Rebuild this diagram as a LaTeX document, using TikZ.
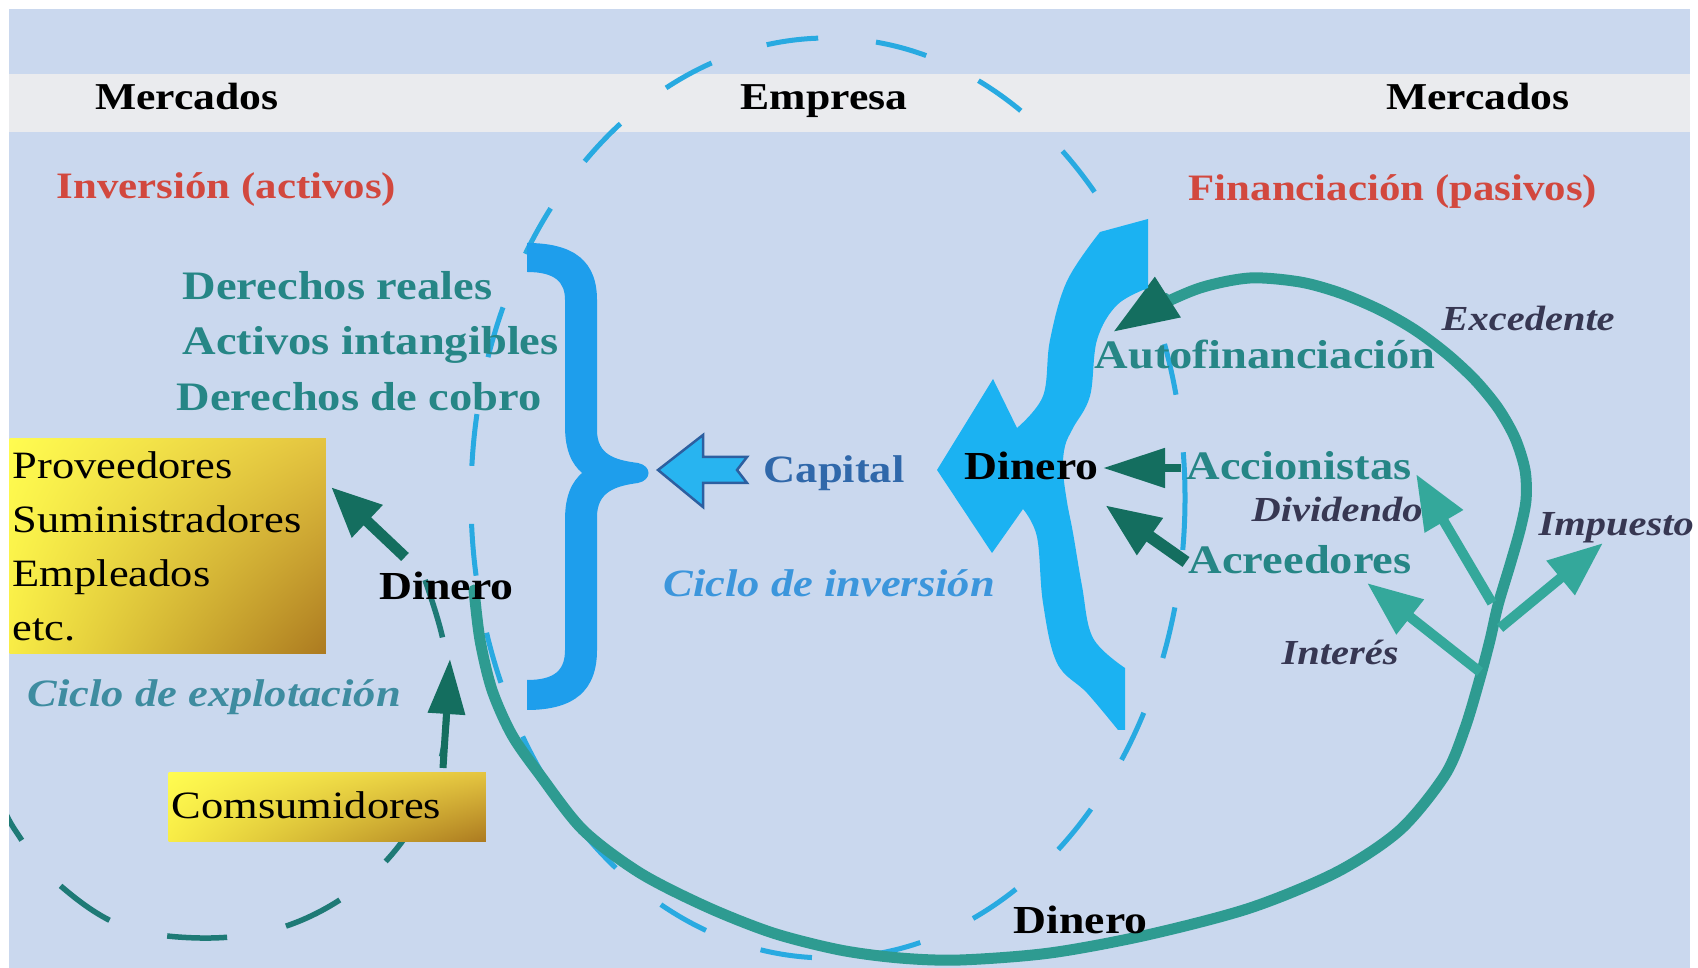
\documentclass[tikz,border=0pt]{standalone}
\usepackage{fontspec}
\setmainfont{Liberation Serif}[FakeStretch=1.15]
\usetikzlibrary{arrows.meta,shadings}
\definecolor{bgblue}{RGB}{202,216,238}
\definecolor{bandgrey}{RGB}{234,235,238}
\definecolor{redt}{RGB}{210,72,62}
\definecolor{tealtxt}{RGB}{38,134,134}
\definecolor{capblue}{RGB}{48,104,170}
\definecolor{cycblue}{RGB}{60,150,220}
\definecolor{cycteal}{RGB}{62,140,160}
\definecolor{darkit}{RGB}{55,55,82}
\definecolor{lbrace}{RGB}{30,158,236}
\definecolor{rbrace}{RGB}{27,178,242}
\definecolor{capfill}{RGB}{40,180,240}
\definecolor{capdraw}{RGB}{45,95,160}
\definecolor{ldash}{RGB}{40,170,225}
\definecolor{ddash}{RGB}{30,122,118}
\definecolor{tealline}{RGB}{46,155,145}
\definecolor{brancht}{RGB}{52,168,155}
\definecolor{darkarrow}{RGB}{20,110,95}
\definecolor{yelA}{RGB}{255,252,80}
\definecolor{yelB}{RGB}{228,196,64}
\definecolor{yelC}{RGB}{248,236,70}
\definecolor{yelD}{RGB}{172,122,32}
\tikzset{
  txt/.style={inner sep=0pt, anchor=west},
  hdr/.style={inner sep=0pt, anchor=base, font=\fontsize{10.8pt}{13pt}\selectfont\bfseries, text=black},
  redlbl/.style={txt, font=\fontsize{10.6pt}{13pt}\selectfont\bfseries, text=redt},
  teallbl/.style={txt, font=\fontsize{11.5pt}{14pt}\selectfont\bfseries, text=tealtxt},
  blklbl/.style={txt, font=\fontsize{11.3pt}{14pt}\selectfont\bfseries, text=black},
  caplbl/.style={txt, font=\fontsize{11pt}{13pt}\selectfont\bfseries, text=capblue},
  cyclbl/.style={txt, font=\fontsize{11pt}{13pt}\selectfont\bfseries\itshape},
  itlbl/.style={txt, font=\fontsize{10pt}{12pt}\selectfont\bfseries\itshape, text=darkit},
  ybox/.style={anchor=north west, inner xsep=0.03cm, inner ysep=0pt, align=left,
    font=\fontsize{11pt}{15.4pt}\selectfont, text=black,
    upper left=yelA, upper right=yelB, lower left=yelC, lower right=yelD},
  darr/.style={draw=darkarrow, -{Triangle[length=0.55cm,width=0.42cm]}},
  barr/.style={draw=brancht, line width=0.1cm, -{Triangle[length=0.55cm,width=0.42cm]}},
  ldashed/.style={draw=ldash, line width=0.05cm, dash pattern=on 0.52cm off 0.58cm},
  ddashed/.style={draw=ddash, line width=0.055cm, dash pattern=on 0.6cm off 0.6cm},
}
\begin{document}
\begin{tikzpicture}[x=0.01cm,y=-0.01cm]
\useasboundingbox (0,0) rectangle (1698,968);
\fill[white] (0,0) rectangle (1698,968);
\fill[bgblue] (9,9) rectangle (1690,968);
\fill[bandgrey] (9,74) rectangle (1690,132);

% dashed cycles
\begin{scope}
\clip (9,9) rectangle (1690,968);
\draw[ldashed] (828,498) ellipse [x radius=357, y radius=460];
\draw[ddashed] plot[smooth, tension=0.6] coordinates {(425,580) (443,640) (448,700) (438,770) (404,839) (350,893) (280,928) (200,938) (120,925) (54,880) (15,830) (0,800)};
\end{scope}

% main money cycle
\draw[tealline, line width=0.11cm, line cap=round, -{Triangle[length=0.65cm,width=0.45cm,color=darkarrow]}]
  plot[smooth, tension=0.5] coordinates {(474,590) (480,640) (492,690) (512,735) (540,775) (583,830) (640,873) (707,907) (773,933) (840,950) (900,958) (960,960) (1050,953) (1147,935) (1250,908) (1337,872) (1400,830) (1445,775) (1465,728) (1480,678) (1490,640) (1498,605) (1510,565) (1520,530) (1526,500) (1525,470) (1515,438) (1498,408) (1475,380) (1447,354) (1415,330) (1380,310) (1340,293) (1300,282) (1250,278) (1200,288) (1150,310) (1113,332)};

% branch coordinates
\coordinate (bDiv) at (1492,603);
\coordinate (tDiv) at (1416,474);
\coordinate (bImp) at (1500,628);
\coordinate (tImp) at (1603,543);
\coordinate (bInt) at (1480,672);
\coordinate (tInt) at (1367,583);
\draw[barr] (bDiv) -- (tDiv);
\draw[barr] (bImp) -- (tImp);
\draw[barr] (bInt) -- (tInt);

% left brace
\fill[lbrace] (527,243) .. controls (575,243) and (597,262) .. (597,300) -- (597,430)
  .. controls (597,455) and (615,460) .. (638,463) .. controls (652,466) and (652,480) .. (638,483)
  .. controls (615,486) and (597,492) .. (597,517) -- (597,650)
  .. controls (597,690) and (575,710) .. (527,710) -- (527,680)
  .. controls (555,680) and (565,670) .. (565,650) -- (565,520)
  .. controls (565,495) and (572,482) .. (582,473) .. controls (572,464) and (565,451) .. (565,426)
  -- (565,300) .. controls (565,282) and (555,272) .. (527,272) -- cycle;

% right brace with arrow
\fill[rbrace] (1148,219) -- (1100,232)
  -- plot[smooth, tension=0.6] coordinates {(1100,232) (1067,281) (1050,340) (1043,396) (1017,428)}
  -- (993,379) -- (937,470) -- (992,553) -- (1023,509)
  -- plot[smooth, tension=0.6] coordinates {(1023,509) (1037,537) (1043,603) (1057,663) (1087,693) (1118,730)}
  -- (1125,730) -- (1125,668)
  -- plot[smooth, tension=0.6] coordinates {(1125,668) (1093,638) (1082,586) (1073,533) (1067,502) (1063,470) (1065,446) (1073,428) (1090,396) (1097,340) (1117,305) (1148,288)}
  -- cycle;

% capital arrow
\filldraw[fill=capfill, draw=capdraw, line width=0.025cm, line join=miter]
  (658,470) -- (703,435) -- (703,457) -- (747,457) -- (737,470) -- (747,483) -- (703,483) -- (703,507) -- cycle;

% boxes
\node[ybox, text width=3.1cm, minimum height=2.15cm] (prov) at (9,438)
  {Proveedores\\Suministradores\\Empleados\\etc.};
\node[ybox, text width=3.11cm, minimum height=0.69cm] (cons) at (168,772) {\raisebox{0.05cm}{Comsumidores}};

% labels
\node[hdr] (mercL) at (187,110) {Mercados};
\node[hdr] (empresa) at (824,110) {Empresa};
\node[hdr] (mercR) at (1478,110) {Mercados};
\node[redlbl] (inv) at (56,190) {Inversión (activos)};
\node[redlbl] (fin) at (1188,192) {Financiación (pasivos)};
\node[teallbl] (dr) at (182,286) {Derechos reales};
\node[teallbl] (ai) at (182,345) {Activos intangibles};
\node[teallbl] (dc) at (176,397) {Derechos de cobro};
\node[blklbl] (dinL) at (379,586) {Dinero};
\node[cyclbl, text=cycteal] (cexp) at (27,697) {Ciclo de explotación};
\node[caplbl] (cap) at (763,473) {Capital};
\node[cyclbl, text=cycblue] (cinv) at (663,583) {Ciclo de inversión};
\node[blklbl] (dinR) at (964,466) {Dinero};
\node[teallbl] (auto) at (1094,355) {Autofinanciación};
\node[teallbl] (acc) at (1186,466) {Accionistas};
\node[itlbl] (div) at (1251,509) {Dividendo};
\node[teallbl] (acr) at (1188,560) {Acreedores};
\node[itlbl] (int) at (1281,652) {Interés};
\node[itlbl] (exc) at (1441,318) {Excedente};
\node[itlbl] (imp) at (1538,528) {Impuesto};
\node[blklbl] (dinB) at (1013,920) {Dinero};

% dark arrows
\coordinate (aAcc) at (1181,468);
\coordinate (hAcc) at (1103,468);
\coordinate (aAcr) at (1186,562);
\coordinate (hAcr) at (1105,505);
\coordinate (aProv) at (405,557);
\coordinate (hProv) at (331,487);
\coordinate (aCons) at (443,768);
\coordinate (hCons) at (450,659);
\draw[darr, line width=0.08cm, -{Triangle[length=0.62cm,width=0.38cm]}] (aAcc) -- (hAcc);
\draw[darr, line width=0.12cm] (aAcr) -- (hAcr);
\draw[darr, line width=0.11cm, -{Triangle[length=0.5cm,width=0.42cm]}] (aProv) -- (hProv);
\draw[darr, line width=0.07cm, -{Triangle[length=0.55cm,width=0.36cm]}] (aCons) -- (hCons);
\end{tikzpicture}
\end{document}
